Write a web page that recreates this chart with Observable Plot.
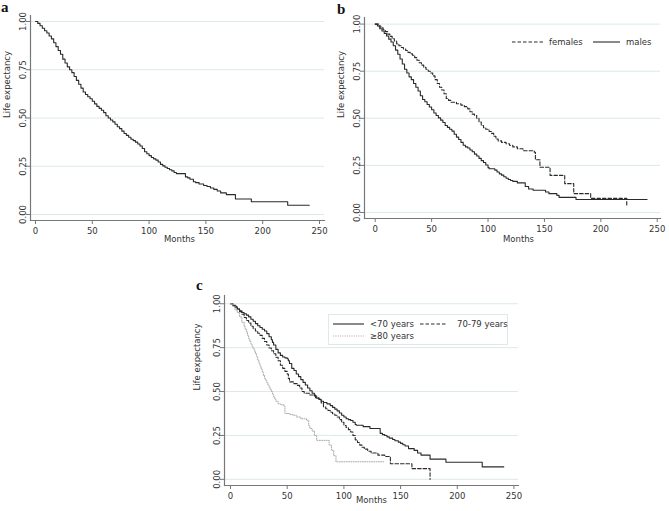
<!DOCTYPE html>
<html>
<head>
<meta charset="utf-8">
<script src="https://cdn.jsdelivr.net/npm/d3@7"></script>
<script src="https://cdn.jsdelivr.net/npm/@observablehq/plot@0.6"></script>
<style>
  body { margin: 0; background: #fff; }
  #fig { position: relative; width: 669px; height: 511px; overflow: hidden; font-family: "DejaVu Sans", sans-serif; }
  .panel { position: absolute; }
  .tag { position: absolute; font-family: "Liberation Serif", serif; font-weight: bold; font-size: 15px; line-height: 1; color: #111; }
  .key { position: absolute; left: 0; top: 0; overflow: visible; }
</style>
</head>
<body>
<div id="fig"></div>
<script>
// Kaplan–Meier survival estimates (months, survival probability)
const monthsAll = [0, 2, 4, 6, 8, 10, 12, 14, 16, 18, 20, 22, 24, 26, 28, 30, 32, 34, 36, 38, 40, 42, 44, 46, 48, 50, 52, 54, 56, 58, 60, 62, 64, 66, 68, 70, 72, 74, 76, 78, 80, 82, 84, 86, 88, 90, 92, 94, 96, 98, 100, 102, 104, 106, 108, 110, 112, 114, 116, 118, 120, 122, 124, 132, 134, 136, 139, 141, 144, 148, 151, 154, 157, 160, 163, 168, 176, 190, 222, 241];
const survAll   = [1, 0.99, 0.978, 0.965, 0.952, 0.94, 0.925, 0.91, 0.89, 0.87, 0.85, 0.83, 0.805, 0.785, 0.765, 0.75, 0.735, 0.715, 0.695, 0.675, 0.655, 0.635, 0.622, 0.61, 0.6, 0.587, 0.573, 0.56, 0.55, 0.54, 0.528, 0.512, 0.5, 0.49, 0.48, 0.468, 0.455, 0.445, 0.432, 0.42, 0.41, 0.4, 0.39, 0.383, 0.375, 0.365, 0.355, 0.342, 0.325, 0.315, 0.305, 0.295, 0.288, 0.282, 0.272, 0.26, 0.252, 0.245, 0.238, 0.232, 0.226, 0.218, 0.212, 0.195, 0.19, 0.183, 0.17, 0.165, 0.158, 0.15, 0.145, 0.137, 0.13, 0.122, 0.112, 0.103, 0.08, 0.066, 0.048, 0.048];

const monthsMale = [0, 2, 4, 6, 8, 10, 12, 14, 16, 18, 20, 22, 24, 26, 28, 30, 32, 34, 36, 38, 40, 42, 44, 46, 48, 50, 52, 54, 56, 58, 60, 62, 64, 66, 68, 70, 72, 74, 76, 78, 80, 82, 84, 86, 88, 90, 92, 94, 96, 98, 100, 101, 106, 108, 110, 112, 114, 116, 118, 120, 122, 126, 133, 136, 140, 151, 154, 161, 163, 178, 241];
const survMale   = [1, 0.99, 0.975, 0.963, 0.95, 0.937, 0.92, 0.905, 0.885, 0.862, 0.84, 0.815, 0.788, 0.76, 0.74, 0.72, 0.705, 0.685, 0.665, 0.645, 0.62, 0.6, 0.588, 0.573, 0.56, 0.545, 0.528, 0.515, 0.502, 0.49, 0.478, 0.462, 0.452, 0.442, 0.432, 0.415, 0.4, 0.387, 0.372, 0.357, 0.348, 0.342, 0.332, 0.322, 0.31, 0.3, 0.287, 0.275, 0.265, 0.252, 0.238, 0.232, 0.225, 0.215, 0.205, 0.198, 0.19, 0.182, 0.175, 0.17, 0.165, 0.157, 0.138, 0.125, 0.118, 0.109, 0.1, 0.091, 0.08, 0.069, 0.069];

const monthsFemale = [0, 3, 5, 7, 9, 11, 13, 15, 17, 19, 21, 23, 25, 27, 29, 31, 33, 35, 37, 39, 41, 43, 45, 47, 49, 51, 53, 55, 57, 59, 61, 63, 65, 67, 72, 76, 79, 82, 84, 86, 88, 90, 92, 94, 96, 98, 101, 103, 105, 107, 109, 112, 116, 119, 122, 126, 131, 141, 142, 146, 155, 168, 176, 191, 223];
const survFemale   = [1, 0.99, 0.98, 0.97, 0.96, 0.947, 0.935, 0.922, 0.91, 0.895, 0.885, 0.876, 0.868, 0.86, 0.85, 0.842, 0.835, 0.822, 0.808, 0.795, 0.782, 0.77, 0.76, 0.75, 0.74, 0.725, 0.705, 0.685, 0.665, 0.65, 0.63, 0.605, 0.595, 0.585, 0.577, 0.57, 0.562, 0.55, 0.535, 0.522, 0.515, 0.5, 0.48, 0.462, 0.45, 0.442, 0.43, 0.42, 0.405, 0.39, 0.38, 0.372, 0.365, 0.357, 0.348, 0.338, 0.328, 0.32, 0.28, 0.24, 0.197, 0.153, 0.1, 0.075, 0.04];

const monthsUnder70 = [0, 2, 4, 6, 8, 10, 12, 14, 16, 18, 20, 22, 24, 26, 28, 30, 32, 34, 36, 37, 38, 40, 42, 44, 46, 48, 50, 51, 52, 54, 56, 58, 60, 62, 64, 66, 68, 70, 72, 74, 76, 78, 80, 82, 85, 88, 90, 92, 94, 96, 98, 100, 102, 104, 106, 108, 110, 111, 117, 123, 132, 134, 136, 138, 140, 143, 145, 148, 150, 152, 154, 157, 162, 165, 168, 176, 190, 222, 241];
const survUnder70   = [1, 0.99, 0.98, 0.97, 0.96, 0.95, 0.943, 0.935, 0.925, 0.912, 0.9, 0.887, 0.875, 0.865, 0.855, 0.845, 0.83, 0.812, 0.795, 0.78, 0.765, 0.74, 0.72, 0.706, 0.697, 0.692, 0.687, 0.675, 0.66, 0.632, 0.62, 0.6, 0.585, 0.568, 0.552, 0.537, 0.52, 0.505, 0.49, 0.475, 0.462, 0.455, 0.445, 0.438, 0.43, 0.42, 0.41, 0.4, 0.39, 0.378, 0.365, 0.355, 0.345, 0.34, 0.335, 0.325, 0.312, 0.308, 0.3, 0.29, 0.262, 0.255, 0.25, 0.242, 0.235, 0.227, 0.22, 0.212, 0.205, 0.197, 0.19, 0.175, 0.165, 0.15, 0.138, 0.115, 0.097, 0.071, 0.071];

const months70to79 = [0, 2, 4, 6, 8, 10, 12, 14, 16, 18, 20, 22, 24, 26, 28, 30, 32, 34, 36, 38, 40, 42, 44, 46, 48, 50, 51, 52, 56, 59, 61, 63, 65, 70, 75, 78, 80, 82, 84, 86, 88, 90, 92, 94, 96, 98, 100, 102, 104, 106, 108, 110, 112, 114, 116, 118, 121, 124, 130, 136, 141, 160, 176];
const surv70to79   = [1, 0.993, 0.985, 0.97, 0.955, 0.94, 0.922, 0.905, 0.89, 0.872, 0.858, 0.845, 0.832, 0.82, 0.803, 0.785, 0.765, 0.748, 0.732, 0.715, 0.695, 0.675, 0.65, 0.632, 0.615, 0.6, 0.575, 0.555, 0.545, 0.535, 0.52, 0.5, 0.49, 0.48, 0.465, 0.458, 0.435, 0.412, 0.402, 0.392, 0.382, 0.374, 0.365, 0.355, 0.34, 0.325, 0.307, 0.295, 0.283, 0.27, 0.25, 0.225, 0.21, 0.195, 0.183, 0.172, 0.16, 0.15, 0.138, 0.13, 0.089, 0.061, 0];

const months80plus = [0, 2, 4, 6, 8, 10, 12, 13, 14, 15, 16, 17, 18, 19, 20, 21, 22, 23, 24, 25, 26, 27, 28, 29, 30, 31, 32, 33, 34, 35, 36, 37, 38, 39, 40, 42, 44, 47, 48, 52, 55, 58, 62, 67, 69, 70, 72, 74, 76, 87, 89, 91, 93, 135];
const surv80plus   = [1, 0.985, 0.965, 0.95, 0.925, 0.895, 0.87, 0.855, 0.84, 0.82, 0.8, 0.785, 0.77, 0.755, 0.745, 0.73, 0.715, 0.7, 0.68, 0.662, 0.645, 0.628, 0.61, 0.592, 0.575, 0.562, 0.55, 0.537, 0.525, 0.512, 0.5, 0.485, 0.47, 0.457, 0.445, 0.43, 0.425, 0.418, 0.375, 0.37, 0.365, 0.355, 0.345, 0.336, 0.305, 0.29, 0.275, 0.25, 0.222, 0.195, 0.165, 0.135, 0.1, 0.1];

const monthTicks = [0, 50, 100, 150, 200, 250];
const survTicks = [0, 0.25, 0.5, 0.75, 1];

const toRows = (months, surv) => months.map((t, i) => ({t, s: surv[i]}));

const INK = "#2a2a2a";
const GRID = "#dde9e9";
const AXIS = "#777";

const styles = {
  solid: {stroke: INK, strokeWidth: 1.1},
  dashed: {stroke: INK, strokeWidth: 1.1, strokeDasharray: "3.5,2"},
  dotted: {stroke: "#aaaaaa", strokeWidth: 1, strokeDasharray: "1,1.3"}
};

function survivalPanel({curves, width, height, margin, xDomain, yDomain, labelShiftX = 0}) {
  return Plot.plot({
    width, height,
    marginLeft: margin[0], marginTop: margin[1], marginRight: margin[2], marginBottom: margin[3],
    x: {domain: xDomain},
    y: {domain: yDomain},
    style: {fontFamily: "DejaVu Sans, sans-serif", fontSize: "8.5px", color: "#333", background: "white"},
    marks: [
      Plot.ruleY(survTicks, {stroke: GRID, strokeWidth: 1}),
      Plot.frame({anchor: "left", stroke: AXIS, strokeWidth: 1.2}),
      Plot.frame({anchor: "bottom", stroke: AXIS, strokeWidth: 1.2}),
      Plot.axisY(survTicks, {
        tickSize: 4, tickRotate: -90, tickPadding: 1, stroke: AXIS,
        tickFormat: d3.format(".2f"), label: null
      }),
      Plot.axisX(monthTicks, {tickSize: 4, tickPadding: 3, stroke: AXIS, label: null}),
      Plot.text(["Life expectancy"], {
        frameAnchor: "left", rotate: -90, lineAnchor: "top", dx: -margin[0] + 3, fill: "#333"
      }),
      Plot.text(["Months"], {
        frameAnchor: "bottom", lineAnchor: "bottom", dy: margin[3] - 9, dx: labelShiftX, fill: "#333"
      }),
      ...curves.map(c => Plot.line(toRows(c.months, c.surv), {x: "t", y: "s", curve: "step-after", ...styles[c.style]}))
    ]
  });
}

const fig = document.getElementById("fig");

function place(node, left, top) {
  node.classList.add("panel");
  node.style.left = left + "px";
  node.style.top = top + "px";
  fig.appendChild(node);
}

function tag(letter, left, top) {
  const d = document.createElement("div");
  d.className = "tag";
  d.textContent = letter;
  d.style.left = left + "px";
  d.style.top = top + "px";
  fig.appendChild(d);
}

// Panel a: all patients
place(survivalPanel({
  curves: [{months: monthsAll, surv: survAll, style: "solid"}],
  width: 335, height: 250, margin: [30, 15, 11, 30],
  xDomain: [-4.4, 254.4], yDomain: [-0.031, 1.031], labelShiftX: 2
}), 0, 0);

// Panel b: by sex
place(survivalPanel({
  curves: [
    {months: monthsFemale, surv: survFemale, style: "dashed"},
    {months: monthsMale, surv: survMale, style: "solid"}
  ],
  width: 335, height: 250, margin: [30, 17, 9, 32],
  xDomain: [-9.5, 252.9], yDomain: [-0.032, 1.035], labelShiftX: 6
}), 334, 0);

// Panel c: by age group
place(survivalPanel({
  curves: [
    {months: monthsUnder70, surv: survUnder70, style: "solid"},
    {months: months70to79, surv: surv70to79, style: "dashed"},
    {months: months80plus, surv: surv80plus, style: "dotted"}
  ],
  width: 335, height: 256, margin: [34, 40, 7, 26],
  xDomain: [-5.3, 254], yDomain: [-0.035, 1.047]
}), 190, 255);

tag("a", 1, 0);
tag("b", 337, 2);
tag("c", 196, 278);

// Legends
const key = d3.select(fig).append("svg")
  .attr("class", "key").attr("width", 669).attr("height", 511)
  .style("font-family", "DejaVu Sans, sans-serif").style("font-size", "8.5px");

function keyItem(x1, x2, y, style, label, textX) {
  const s = styles[style];
  key.append("line").attr("x1", x1).attr("x2", x2).attr("y1", y).attr("y2", y)
    .attr("stroke", s.stroke).attr("stroke-width", s.strokeWidth)
    .attr("stroke-dasharray", s.strokeDasharray || null);
  key.append("text").attr("x", textX).attr("y", y).attr("dy", "0.34em")
    .attr("fill", "#333").text(label);
}

keyItem(512, 544, 42, "dashed", "females", 549);
keyItem(593, 620, 42, "solid", "males", 626);

key.append("rect").attr("x", 328.5).attr("y", 314.5).attr("width", 179).attr("height", 30)
  .attr("fill", "white").attr("stroke", "#e0e9e9");
keyItem(333, 364, 324, "solid", "<70 years", 370);
keyItem(420, 447, 324, "dashed", "70-79 years", 457);
keyItem(333, 364, 336, "dotted", "≥80 years", 370);
</script>
</body>
</html>
